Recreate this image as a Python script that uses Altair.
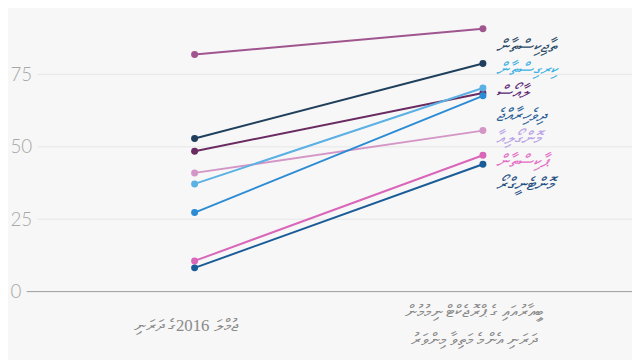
import altair as alt
import pandas as pd

# ---- data ----
countries = ["ޖިބޫތީ", "ތާޖިކިސްތާން", "ލާއޯސް", "މޮންގޯލިއާ",
             "ކިރގިސްތާން", "ދިވެހިރާއްޖެ", "ޕާކިސްތާން", "މޮންޓެނީގްރޯ"]
debt_2016 = [81.9, 52.9, 48.5, 41.0, 37.2, 27.3, 10.6, 8.2]
debt_peak = [90.8, 78.8, 68.6, 55.6, 70.3, 67.6, 47.1, 44.0]
line_colors = ["#a0558f", "#1f3f5c", "#6a2b62", "#d496c6",
               "#5cb1e4", "#2b8bd3", "#da66ba", "#1a5c98"]
# labelled series, top to bottom in the label column
label_order = ["ތާޖިކިސްތާން", "ކިރގިސްތާން", "ލާއޯސް", "ދިވެހިރާއްޖެ",
               "މޮންގޯލިއާ", "ޕާކިސްތާން", "މޮންޓެނީގްރޯ"]
label_colors = ["#2d4a66", "#3fb2e2", "#5d2a76", "#2a5f97",
                "#b9a1e6", "#e46cc4", "#1f4f82"]
# category labels of the two columns (second one on two lines)
period_text = ["ޖުމްލަ 2016ގެ ދަރަނި",
               "ބީއާރުއައި ގެ ޕްރޮޖެކްޓް ނިމުމުން",
               "ދަރަނި އެންމެ މަތިވާ މިންވަރު"]
period_of_text = [0, 1, 1]
row_of_text = [1, 0, 2]
y_ticks = [0, 25, 50, 75, 100]
grid_vals = [25, 50, 75]

# ---- tables ----
rows = []
for c, a, b in zip(countries, debt_2016, debt_peak):
    rows.append({"country": c, "period": 0, "value": a})
    rows.append({"country": c, "period": 1, "value": b})
df = pd.DataFrame(rows)

lab = pd.DataFrame({
    "country": label_order,
    "pos": [84.6 - i * 7.95 for i in range(len(label_order))],
    "col": label_colors,
})

ptab = pd.DataFrame({"period": period_of_text, "txt": period_text, "row": row_of_text})

W, H = 632, 352
xs = alt.Scale(domain=[0, 1], range=[189, 481], nice=False, zero=False)
ys = alt.Scale(domain=[0, 100], range=[285, -8.3], nice=False)
cs = alt.Scale(domain=countries, range=line_colors)

y_axis = alt.Axis(
    values=y_ticks, orient="left", offset=-2, labelAlign="left",
    labelPadding=0, ticks=False, domain=False, grid=False,
    labelExpr="datum.value == 100 ? '100% of GDP' : datum.label",
    labelFont="Lato", labelFontSize=19, labelFontWeight=300,
    labelColor="#a8a8a8", labelBaseline="middle", title=None)

grid = alt.Chart(pd.DataFrame({"v": grid_vals})).mark_rule(
    color="#e6e6e6", strokeWidth=1
).encode(y=alt.Y("v:Q", scale=ys, axis=y_axis), x=alt.value(30), x2=alt.value(W))

zero = alt.Chart(pd.DataFrame({"v": [0]})).mark_rule(
    color="#9a9a9a", strokeWidth=1
).encode(y=alt.Y("v:Q", scale=ys, axis=None), x=alt.value(19), x2=alt.value(W))

base = alt.Chart(df).encode(
    x=alt.X("period:Q", scale=xs, axis=alt.Axis(
        values=[0, 1], labels=False, orient="bottom", offset=-67,
        domain=False, grid=False, ticks=True, tickSize=14, tickColor="#d0d0d0",
        title=None)),
    y=alt.Y("value:Q", scale=ys, axis=None),
    color=alt.Color("country:N", scale=cs, legend=None),
    detail="country:N",
)

lines = base.mark_line(strokeWidth=2)
dots = base.mark_circle(size=50, opacity=1)

labels = alt.Chart(lab).mark_text(
    align="left", baseline="middle", dx=13, font="Liberation Serif",
    fontSize=18, fontStyle="italic"
).encode(
    x=alt.value(481),
    y=alt.Y("pos:Q", scale=ys, axis=None),
    text="country:N",
    color=alt.Color("col:N", scale=None),
)

cat_labels = alt.Chart(ptab).mark_text(
    align="center", baseline="middle", dx=-9, font="Liberation Serif",
    fontSize=17, color="#8a8a8a"
).encode(
    x=alt.X("period:Q", scale=xs, axis=None),
    y=alt.Y("row:Q", scale=alt.Scale(domain=[0, 2], range=[306, 334]), axis=None),
    text="txt:N",
)

chart = alt.layer(grid, zero, lines, dots, labels, cat_labels).resolve_axis(
    y="independent"
).resolve_scale(y="independent").properties(
    width=W, height=H, autosize=alt.AutoSizeParams(type="none"),
    padding=0, background="#f7f7f7",
).configure_view(stroke=None)

chart.save("out.html", embed_options={"renderer": "svg", "actions": False})
